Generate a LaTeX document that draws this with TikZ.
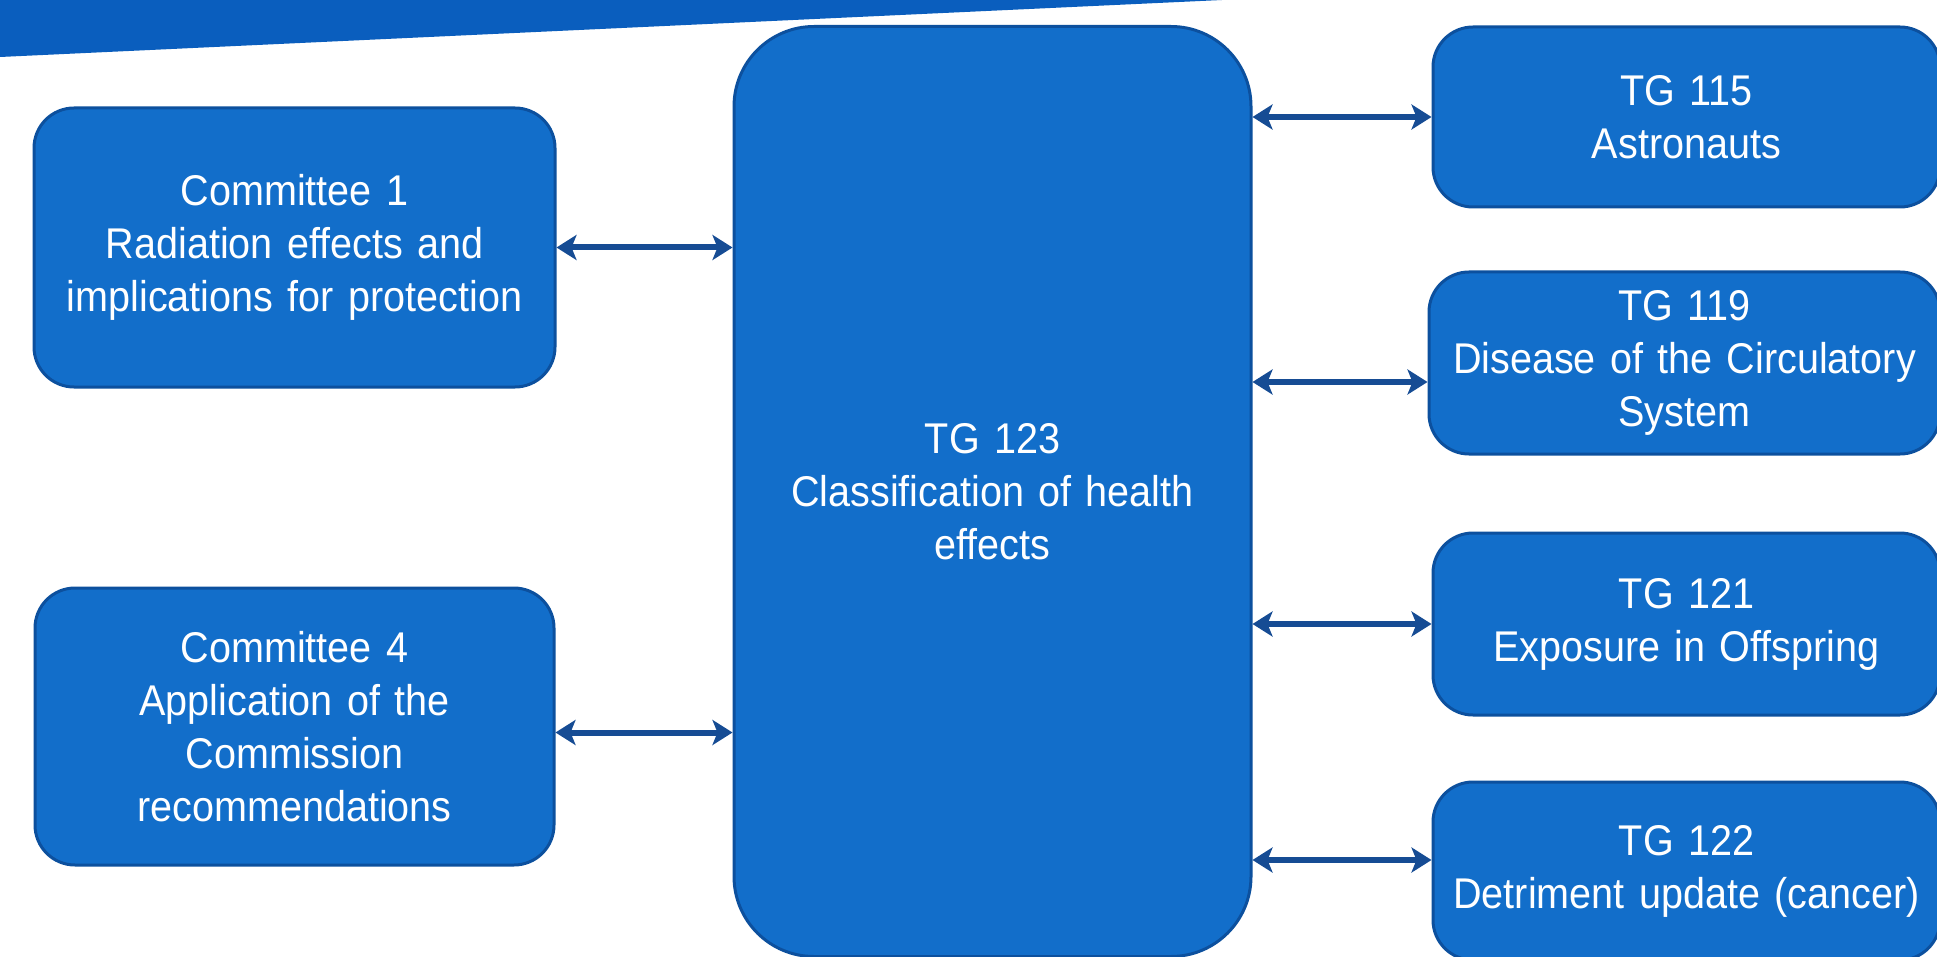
\documentclass[tikz,border=0pt]{standalone}
\usepackage{fontspec}
\setmainfont{Liberation Sans}[FakeStretch=0.92]
\usetikzlibrary{arrows.meta}
\definecolor{boxfill}{RGB}{18,110,202}
\definecolor{boxline}{RGB}{12,80,158}
\definecolor{arrowcol}{RGB}{22,76,148}
\definecolor{bannercol}{RGB}{10,94,190}
\tikzset{
  box/.style={draw=boxline, line width=3pt, fill=boxfill, text=white,
    align=center, inner sep=0pt, font=\fontsize{43}{53}\selectfont},
  biarrow/.style={draw=arrowcol, line width=6pt,
    {Stealth[length=20pt,width=25pt,inset=5pt]}-{Stealth[length=20pt,width=25pt,inset=5pt]}}
}
\begin{document}
\begin{tikzpicture}[x=1pt,y=-1pt]
\useasboundingbox (0,0) rectangle (1937,957);
\clip (0,0) rectangle (1937,957);
\fill[white] (0,0) rectangle (1937,957);
% banner
\fill[bannercol] (0,0) -- (1222,0) -- (0,57) -- cycle;

\node[box, rounded corners=40pt, minimum width=521pt, minimum height=279pt, text width=500pt]
  (c1) at (294.5,247.5) {Committee 1\\Radiation effects and\\implications for protection};
\node[box, rounded corners=40pt, minimum width=519pt, minimum height=277pt, text width=500pt]
  (c4) at (294.5,726.5) {Committee 4\\Application of the\\Commission\\recommendations};
\node[box, rounded corners=80pt, minimum width=517pt, minimum height=930pt, text width=500pt]
  (tg123) at (992.5,491.5) {TG 123\\Classification of health\\effects};
\node[box, rounded corners=40pt, minimum width=507pt, minimum height=180pt, text width=490pt]
  (tg115) at (1686.5,117) {TG 115\\Astronauts};
\node[box, rounded corners=40pt, minimum width=511pt, minimum height=182pt, text width=490pt]
  (tg119) at (1684.5,363) {TG 119\\Disease of the Circulatory\\System};
\node[box, rounded corners=40pt, minimum width=507pt, minimum height=182pt, text width=490pt]
  (tg121) at (1686.5,624) {TG 121\\Exposure in Offspring};
\node[box, rounded corners=40pt, minimum width=507pt, minimum height=178pt, text width=490pt]
  (tg122) at (1686.5,871) {TG 122\\Detriment update (cancer)};

\draw[biarrow] (c1.east) -- (c1.east -| tg123.west);
\draw[biarrow] ([yshift=-6pt]c4.east) -- ([yshift=-6pt]c4.east -| tg123.west);
\draw[biarrow] (tg115.west -| tg123.east) -- (tg115.west);
\draw[biarrow] ([yshift=-19pt]tg119.west -| tg123.east) -- ([yshift=-19pt]tg119.west);
\draw[biarrow] (tg121.west -| tg123.east) -- (tg121.west);
\draw[biarrow] ([yshift=11pt]tg122.west -| tg123.east) -- ([yshift=11pt]tg122.west);
\end{tikzpicture}
\end{document}
